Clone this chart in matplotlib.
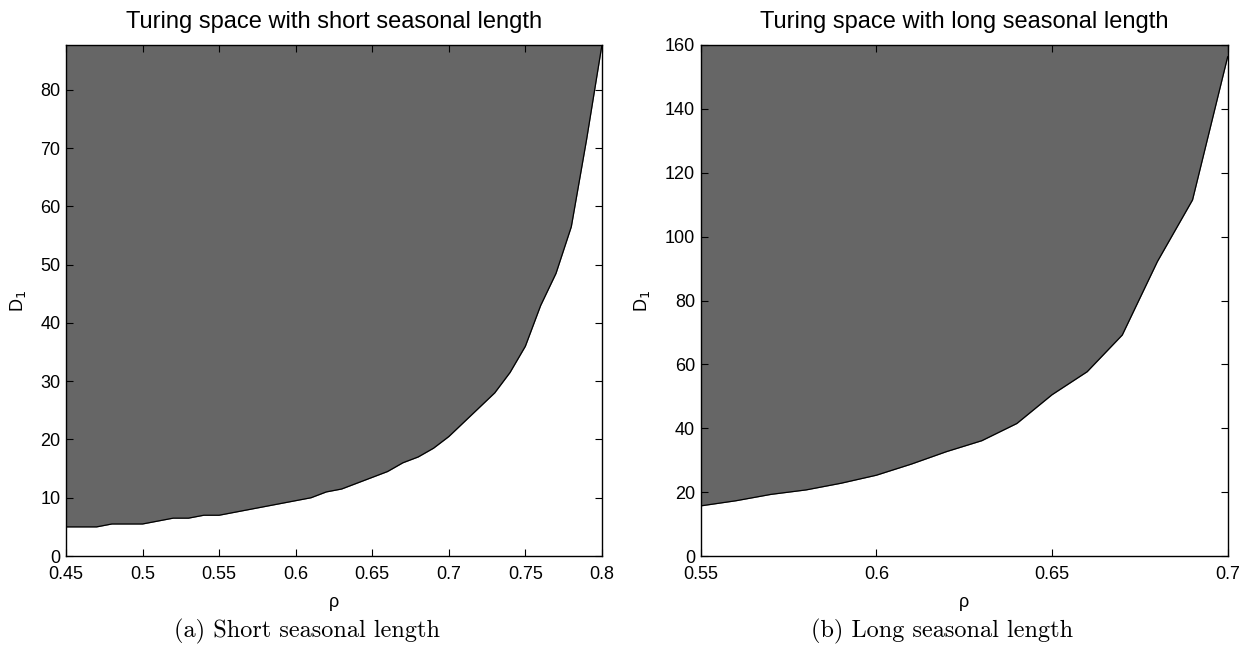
import numpy as np
import matplotlib.pyplot as plt

# boundary of the Turing space
rho_short = [0.45, 0.46, 0.47, 0.48, 0.49, 0.50, 0.51, 0.52, 0.53, 0.54, 0.55,
             0.56, 0.57, 0.58, 0.59, 0.60, 0.61, 0.62, 0.63, 0.64, 0.65, 0.66,
             0.67, 0.68, 0.69, 0.70, 0.71, 0.72, 0.73, 0.74, 0.75, 0.76, 0.77,
             0.78, 0.79, 0.80]
d1_short = [5.0, 5.0, 5.0, 5.5, 5.5, 5.5, 6.0, 6.5, 6.5, 7.0, 7.0,
            7.5, 8.0, 8.5, 9.0, 9.5, 10.0, 11.0, 11.5, 12.5, 13.5, 14.5,
            16.0, 17.0, 18.5, 20.5, 23.0, 25.5, 28.0, 31.5, 36.0, 43.0, 48.5,
            56.5, 71.5, 87.7]

rho_long = [0.55, 0.56, 0.57, 0.58, 0.59, 0.60, 0.61, 0.62, 0.63, 0.64, 0.65,
            0.66, 0.67, 0.68, 0.69, 0.70]
d1_long = [15.7, 17.3, 19.3, 20.7, 22.8, 25.3, 28.8, 32.7, 36.1, 41.5, 50.5,
           57.7, 69.2, 92.2, 111.5, 156.3]

xticks_short = [0.45, 0.5, 0.55, 0.6, 0.65, 0.7, 0.75, 0.8]
xticks_long = [0.55, 0.6, 0.65, 0.7]
yticks_short = [0, 10, 20, 30, 40, 50, 60, 70, 80]
yticks_long = [0, 20, 40, 60, 80, 100, 120, 140, 160]

plt.rcParams['font.family'] = ['Liberation Sans', 'DejaVu Sans']

fig = plt.figure(figsize=(12.47, 6.55), dpi=100)
ax1 = fig.add_axes([0.0529, 0.1511, 0.4298, 0.7802])
ax2 = fig.add_axes([0.5619, 0.1511, 0.4226, 0.7802])


def panel(ax, x, y, ytop, xticks, yticks, title, xlim):
    ax.fill_between(x, y, ytop, color='#666666', linewidth=0)
    ax.plot(x, y, color='black', linewidth=0.9)
    ax.set_xlim(xlim)
    ax.set_ylim(0, ytop)
    ax.set_xticks(xticks)
    ax.set_xticklabels([('%g' % t) for t in xticks])
    ax.set_yticks(yticks)
    ax.tick_params(direction='in', length=5, width=0.8, top=True, right=True,
                   labelsize=13)
    ax.tick_params(axis='x', pad=7)
    ax.tick_params(axis='y', pad=4)
    for s in ax.spines.values():
        s.set_linewidth(1.0)
    ax.set_title(title, fontsize=17, pad=12)
    ax.set_xlabel('\u03c1', fontsize=13, labelpad=8)
    ax.set_ylabel('D$_1$', fontsize=13, labelpad=9)


panel(ax1, rho_short, d1_short, 87.7, xticks_short, yticks_short,
      'Turing space with short seasonal length', (0.45, 0.8))
panel(ax2, rho_long, d1_long, 160, xticks_long, yticks_long,
      'Turing space with long seasonal length', (0.55, 0.7))

fig.text(307 / 1247, 1 - 631 / 655, '(a) Short seasonal length',
         family='cmr10', fontsize=17.5, ha='center', va='center')
fig.text(942 / 1247, 1 - 631 / 655, '(b) Long seasonal length',
         family='cmr10', fontsize=17.5, ha='center', va='center')

fig.savefig('out.png', dpi=100)
